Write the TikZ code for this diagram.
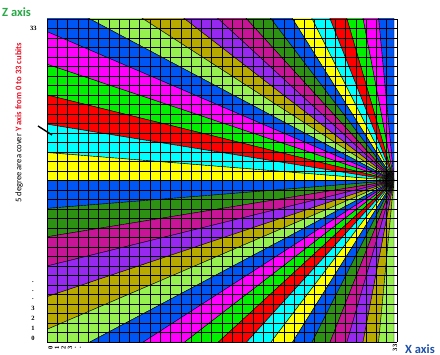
\documentclass[tikz,border=0pt]{standalone}
\usepackage{fontspec}
\setmainfont{Carlito}
\newfontfamily\numfont{Liberation Serif}
\definecolor{cBlue}{RGB}{0,85,245}
\definecolor{cMag}{RGB}{255,0,255}
\definecolor{cGreen}{RGB}{0,240,0}
\definecolor{cRed}{RGB}{255,0,0}
\definecolor{cCyan}{RGB}{0,255,255}
\definecolor{cYel}{RGB}{255,255,0}
\definecolor{cDGreen}{RGB}{45,145,20}
\definecolor{cDMag}{RGB}{200,20,150}
\definecolor{cPurp}{RGB}{150,40,240}
\definecolor{cOlive}{RGB}{185,170,0}
\definecolor{cLGreen}{RGB}{150,240,80}
\definecolor{zgreen}{RGB}{40,170,70}
\definecolor{xblue}{RGB}{30,80,170}
\definecolor{lblred}{RGB}{230,20,40}
\begin{document}
\begin{tikzpicture}[x=1pt,y=1pt,
  axislbl/.style={font=\bfseries\fontsize{12.5}{15}\selectfont, inner sep=0pt},
  numlbl/.style={font=\numfont\bfseries\fontsize{6.5}{7}\selectfont, inner sep=0pt},
  gridline/.style={line width=0.45pt, black},
  wedge/.style={draw=black, line width=0.4pt}]
\useasboundingbox (0,0) rectangle (440,355);
\fill[white] (0,0) rectangle (440,355);
% fan of 5-degree wedges
\begin{scope}
  \clip (47,13) rectangle (397,336);
  \begin{scope}[shift={(394,174.5)}, yscale=0.92]
    \foreach \c [count=\i from 0] in {cBlue,cMag,cGreen,cRed,cCyan,cYel,cBlue,cDGreen,cDMag,cPurp,cOlive,cLGreen,
                                     cBlue,cMag,cGreen,cRed,cCyan,cYel,cBlue,cDGreen,cDMag,cPurp,cOlive,cLGreen,
                                     cBlue,cMag,cGreen,cRed,cCyan,cYel,cBlue,cDGreen,cDMag,cPurp,cOlive,cLGreen}
      \filldraw[wedge, fill=\c] (0,0) -- ({90+5*\i}:600) -- ({95+5*\i}:600) -- cycle;
  \end{scope}
\end{scope}
% grid
\foreach \k in {0,...,34} {
  \draw[gridline] ({47+\k*10.2941},13) -- ({47+\k*10.2941},336);
  \draw[gridline] (47,{13+\k*9.5}) -- (397,{13+\k*9.5});
}
% axis titles
\node[axislbl, text=zgreen, anchor=west] (zaxis) at (2,342.5) {Z axis};
\node[axislbl, text=xblue, anchor=west] (xaxis) at (405,6) {X axis};
% Y axis numbers
\node[numlbl] (y33) at (33.5,327) {33};
\node[numlbl] (y0) at (33,17) {0};
\node[numlbl] (y1) at (33,27) {1};
\node[numlbl] (y2) at (33,37) {2};
\node[numlbl] (y3) at (33,47) {3};
\node[numlbl] (yd1) at (33,56) {.};
\node[numlbl] (yd2) at (33,64) {.};
\node[numlbl] (yd3) at (33,73) {.};
% X axis numbers (rotated)
\node[numlbl, rotate=90] (x0) at (50.5,7) {0};
\node[numlbl, rotate=90] (x1) at (57,7) {1};
\node[numlbl, rotate=90] (x2) at (63.5,7) {2};
\node[numlbl, rotate=90] (x3) at (70,7) {3};
\node[numlbl, rotate=90] (xd1) at (75.5,7) {.};
\node[numlbl, rotate=90] (xd2) at (80.5,7) {.};
\node[numlbl, rotate=90] (x33) at (395,7) {33};
% vertical caption
\node[rotate=90, anchor=west, inner sep=0pt, font=\fontsize{8.6}{9}\selectfont] (caption) at (19,152)
  {5 degree area cover \textcolor{lblred}{\bfseries Y axis  from 0 to 33 cubits}};
% pointer tick
\coordinate (tickA) at (38,229);
\coordinate (tickB) at (52,220);
\draw[line width=1.4pt, black] (tickA) -- (tickB);
\end{tikzpicture}
\end{document}
